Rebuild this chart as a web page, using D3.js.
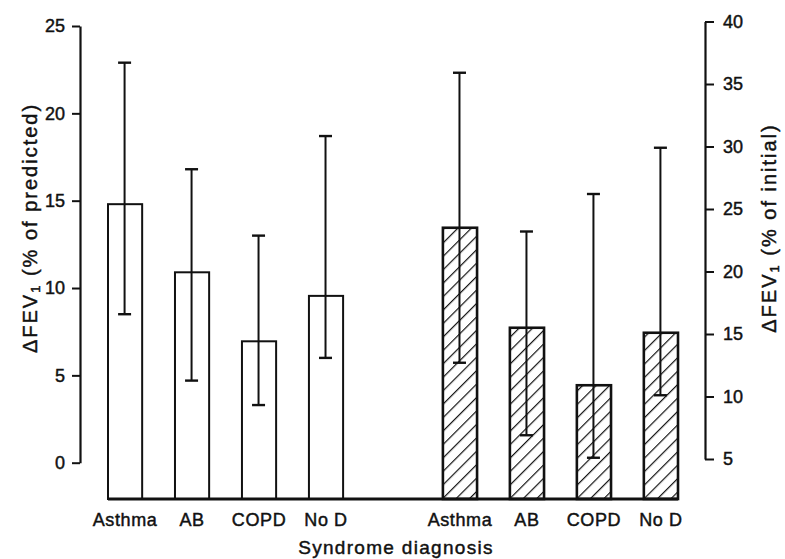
<!DOCTYPE html>
<html>
<head>
<meta charset="utf-8">
<script src="https://cdn.jsdelivr.net/npm/d3@7"></script>
<style>
  html, body { margin: 0; padding: 0; background: #fff; }
  svg { display: block; font-family: "Liberation Sans", Arial, Helvetica, sans-serif; }
  svg text { stroke: #111; stroke-width: 0.45px; paint-order: stroke; }
</style>
</head>
<body>
<svg id="chart" width="785" height="559"></svg>
<script>
// Diagnosis categories, repeated for each measure
const categories = ["Asthma", "AB", "COPD", "No D"];

// ΔFEV1 as % of predicted (left axis): mean with upper / lower error limits
const predictedMean  = [14.8, 10.9, 6.95, 9.55];
const predictedUpper = [22.9, 16.8, 13.0, 18.7];
const predictedLower = [8.5, 4.7, 3.3, 6.0];

// ΔFEV1 as % of initial (right axis): mean with upper / lower error limits
const initialMean  = [23.5, 15.5, 10.9, 15.1];
const initialUpper = [35.9, 23.2, 26.2, 29.9];
const initialLower = [12.7, 6.9, 5.1, 10.1];

// Axis ticks
const leftTicks  = [0, 5, 10, 15, 20, 25];
const rightTicks = [5, 10, 15, 20, 25, 30, 35, 40];

const svg = d3.select("#chart");

// Band slots: four predicted bars, one empty slot, four initial bars
const rows = [];
categories.forEach((c, i) => rows.push({ key: "p" + i, label: c, mean: predictedMean[i], hi: predictedUpper[i], lo: predictedLower[i], axis: "left" }));
const slots = rows.map(r => r.key).concat(["gap"]);
categories.forEach((c, i) => {
  const r = { key: "i" + i, label: c, mean: initialMean[i], hi: initialUpper[i], lo: initialLower[i], axis: "right" };
  rows.push(r);
  slots.push(r.key);
});

const x = d3.scaleBand().domain(slots).range([108, 678]).paddingInner(0.49).paddingOuter(0);
const yLeft = d3.scaleLinear().domain([0, 25]).range([462.7, 26]);
const yRight = d3.scaleLinear().domain([5, 40]).range([459, 21.5]);
const baseY = 499;

// Diagonal hatching for the % of initial bars
const defs = svg.append("defs");
defs.append("pattern")
  .attr("id", "hatch")
  .attr("patternUnits", "userSpaceOnUse")
  .attr("width", 9.5).attr("height", 9.5)
  .attr("patternTransform", "rotate(45)")
  .append("line")
  .attr("x1", 0).attr("y1", 0).attr("x2", 0).attr("y2", 9.5)
  .attr("stroke", "#111").attr("stroke-width", 2.4);

// Left axis
const gL = svg.append("g").attr("transform", "translate(80,0)")
  .call(d3.axisLeft(yLeft).tickValues(leftTicks).tickSize(8).tickSizeOuter(0).tickPadding(7));
// Right axis
const gR = svg.append("g").attr("transform", "translate(705,0)")
  .call(d3.axisRight(yRight).tickValues(rightTicks).tickSize(9).tickSizeOuter(0).tickPadding(9));

[gL, gR].forEach(g => {
  g.select(".domain").attr("stroke", "#111").attr("stroke-width", 2.2);
  g.selectAll(".tick line").attr("stroke", "#111").attr("stroke-width", 2);
  g.selectAll(".tick text").attr("fill", "#111").attr("font-size", 18)
    .attr("font-family", "'Liberation Sans', Arial, sans-serif");
});

// Bars rise from the common baseline
const yOf = r => (r.axis === "left" ? yLeft : yRight);

svg.append("g").selectAll("rect").data(rows).join("rect")
  .attr("x", r => x(r.key))
  .attr("width", x.bandwidth())
  .attr("y", r => yOf(r)(r.mean))
  .attr("height", r => baseY - yOf(r)(r.mean))
  .attr("fill", r => r.axis === "left" ? "#fff" : "url(#hatch)")
  .attr("stroke", "#111")
  .attr("stroke-width", r => r.axis === "left" ? 2 : 2.6);

// Baseline
svg.append("line")
  .attr("x1", x.range()[0]).attr("x2", x.range()[1])
  .attr("y1", baseY).attr("y2", baseY)
  .attr("stroke", "#111").attr("stroke-width", 3);

// Error bars
const capW = 13;
const err = svg.append("g").attr("stroke", "#111").attr("stroke-width", 2);
rows.forEach(r => {
  const cx = x(r.key) + x.bandwidth() / 2 - 0.5;
  const ys = yOf(r);
  err.append("line").attr("x1", cx).attr("x2", cx).attr("y1", ys(r.hi)).attr("y2", ys(r.lo));
  err.append("line").attr("x1", cx - capW / 2).attr("x2", cx + capW / 2).attr("y1", ys(r.hi)).attr("y2", ys(r.hi)).attr("stroke-width", 2.4);
  err.append("line").attr("x1", cx - capW / 2).attr("x2", cx + capW / 2).attr("y1", ys(r.lo)).attr("y2", ys(r.lo)).attr("stroke-width", 2.4);
});

// Category labels
svg.append("g").selectAll("text").data(rows).join("text")
  .attr("x", r => x(r.key) + x.bandwidth() / 2)
  .attr("y", 526)
  .attr("text-anchor", "middle")
  .attr("font-size", 18)
  .attr("letter-spacing", 0.6)
  .attr("fill", "#111")
  .text(r => r.label);

// X-axis title
svg.append("text")
  .attr("x", 396).attr("y", 554)
  .attr("text-anchor", "middle")
  .attr("font-size", 19)
  .attr("letter-spacing", 1.3)
  .attr("fill", "#111")
  .text("Syndrome diagnosis");

// Y-axis titles with subscripted FEV1
function axisTitle(cx, cy, rest) {
  const t = svg.append("text")
    .attr("transform", `translate(${cx},${cy}) rotate(-90)`)
    .attr("text-anchor", "middle")
    .attr("dominant-baseline", "central")
    .attr("font-size", 20)
    .attr("letter-spacing", 2)
    .attr("fill", "#111");
  t.append("tspan").text("ΔFEV");
  t.append("tspan").attr("font-size", 13).attr("dy", 5).text("1");
  t.append("tspan").attr("dy", -5).text(" " + rest);
}
axisTitle(30, 228, "(% of predicted)");
axisTitle(769, 228, "(% of initial)");
</script>
</body>
</html>
